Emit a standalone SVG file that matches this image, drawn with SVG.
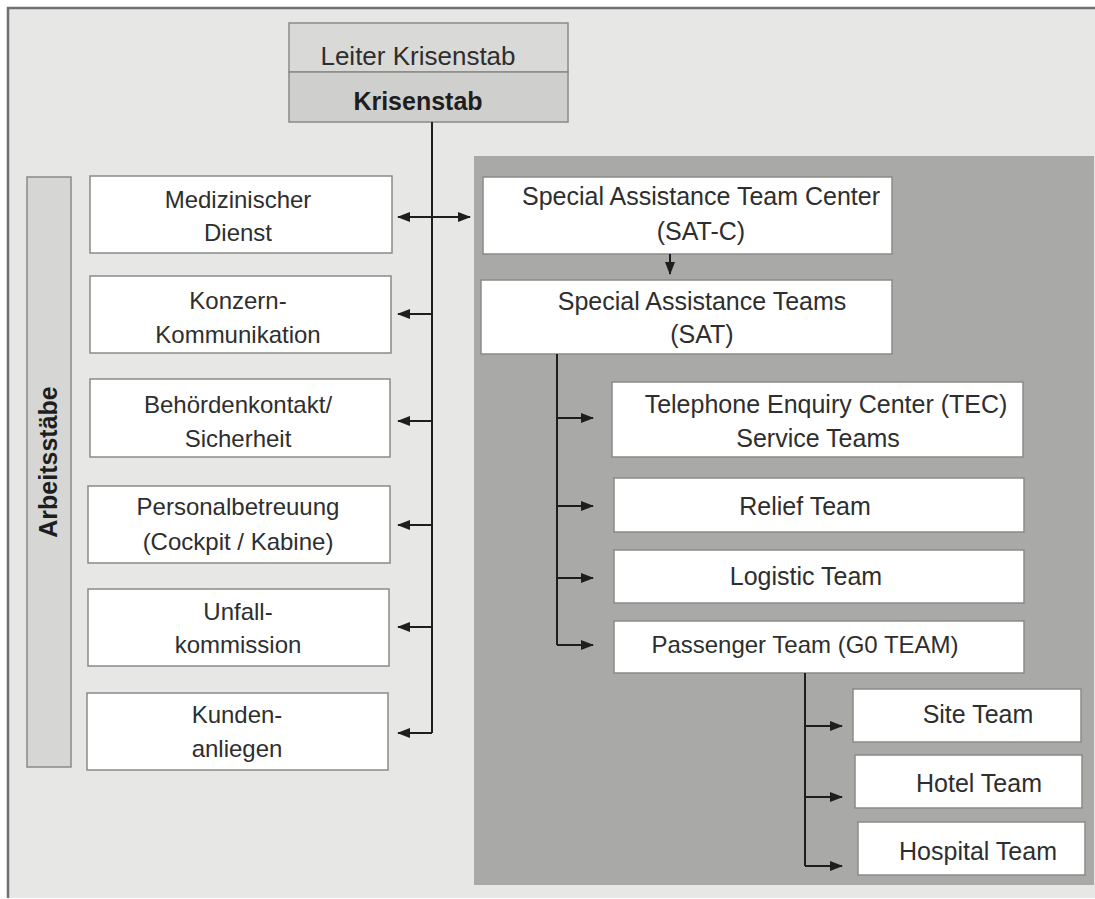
<svg xmlns="http://www.w3.org/2000/svg" width="1095" height="899" viewBox="0 0 1095 899">
<defs>
<marker id="ah" markerUnits="userSpaceOnUse" markerWidth="13" markerHeight="10" refX="12" refY="5" orient="auto-start-reverse">
<path d="M0,0 L13,5 L0,10 z" fill="#1e1e1e"/>
</marker>
</defs>
<style>
.box{fill:#ffffff;stroke:#8a8a88;stroke-width:1.5}
.t{font-family:"Liberation Sans",Arial,sans-serif;font-size:24px;fill:#2e2e2e;text-anchor:middle}
.r{font-size:25px}
.tb{font-family:"Liberation Sans",Arial,sans-serif;font-size:25px;font-weight:bold;fill:#1e1e1e;text-anchor:middle}
.c{fill:none;stroke:#1e1e1e;stroke-width:2}
.ca{fill:none;stroke:#1e1e1e;stroke-width:2;marker-end:url(#ah)}
</style>
<rect x="0" y="0" width="1095" height="899" fill="#ffffff"/>
<rect x="8" y="8" width="1087" height="890" fill="#e7e8e5"/>
<path d="M8,898 L8,8 L1095,8" fill="none" stroke="#707070" stroke-width="2.5"/>
<rect x="474" y="156" width="620" height="729" fill="#a9aaa7"/>

<g id="leiter">
<rect x="289" y="23" width="279" height="49" fill="#d9dad7" stroke="#8a8a88" stroke-width="1.5"/>
<rect x="289" y="72" width="279" height="50" fill="#cfd0cd" stroke="#8a8a88" stroke-width="1.5"/>
<text class="t" x="418" y="65" style="font-size:26px">Leiter Krisenstab</text>
<text class="tb" x="418" y="110">Krisenstab</text>
</g>

<g id="arbeitsstaebe">
<rect x="27" y="177" width="44" height="590" fill="#d6d7d4" stroke="#8a8a88" stroke-width="1.5"/>
<text class="tb" x="0" y="0" transform="translate(57,462) rotate(-90)">Arbeitsstäbe</text>
</g>

<g id="med">
<rect class="box" x="90" y="176" width="302" height="77"/>
<text class="t" x="238" y="208">Medizinischer</text>
<text class="t" x="238" y="241">Dienst</text>
</g>
<g id="konzern">
<rect class="box" x="90" y="276" width="301" height="77"/>
<text class="t" x="238" y="309">Konzern-</text>
<text class="t" x="238" y="343">Kommunikation</text>
</g>
<g id="behoerden">
<rect class="box" x="90" y="379" width="300" height="78"/>
<text class="t" x="238" y="413">Behördenkontakt/</text>
<text class="t" x="238" y="447">Sicherheit</text>
</g>
<g id="personal">
<rect class="box" x="88" y="486" width="302" height="77"/>
<text class="t" x="238" y="515">Personalbetreuung</text>
<text class="t" x="238" y="550">(Cockpit / Kabine)</text>
</g>
<g id="unfall">
<rect class="box" x="88" y="589" width="301" height="77"/>
<text class="t" x="238" y="620">Unfall-</text>
<text class="t" x="238" y="653">kommission</text>
</g>
<g id="kunden">
<rect class="box" x="87" y="693" width="301" height="77"/>
<text class="t" x="237" y="723">Kunden-</text>
<text class="t" x="237" y="757">anliegen</text>
</g>

<g id="satc">
<rect class="box" x="483" y="177" width="409" height="77"/>
<text class="t r" x="701" y="205">Special Assistance Team Center</text>
<text class="t r" x="701" y="240">(SAT-C)</text>
</g>
<g id="sat">
<rect class="box" x="481" y="280" width="411" height="74"/>
<text class="t r" x="702" y="310">Special Assistance Teams</text>
<text class="t r" x="702" y="343">(SAT)</text>
</g>
<g id="tec">
<rect class="box" x="612" y="382" width="411" height="75"/>
<text class="t r" x="826" y="413">Telephone Enquiry Center (TEC)</text>
<text class="t r" x="818" y="447">Service Teams</text>
</g>
<g id="relief">
<rect class="box" x="614" y="478" width="410" height="54"/>
<text class="t r" x="805" y="515">Relief Team</text>
</g>
<g id="logistic">
<rect class="box" x="614" y="550" width="410" height="53"/>
<text class="t r" x="806" y="585">Logistic Team</text>
</g>
<g id="passenger">
<rect class="box" x="614" y="621" width="410" height="52"/>
<text class="t" x="805" y="653">Passenger Team (G0 TEAM)</text>
</g>
<g id="site">
<rect class="box" x="853" y="689" width="228" height="53"/>
<text class="t r" x="978" y="723">Site Team</text>
</g>
<g id="hotel">
<rect class="box" x="855" y="755" width="227" height="53"/>
<text class="t r" x="979" y="792">Hotel Team</text>
</g>
<g id="hospital">
<rect class="box" x="858" y="822" width="227" height="53"/>
<text class="t r" x="978" y="860">Hospital Team</text>
</g>

<g id="connectors">
<path class="c" d="M432,122 L432,733"/>
<path class="ca" d="M398,217 L470,217" style="marker-start:url(#ah)"/>
<path class="ca" d="M432,314 L398,314"/>
<path class="ca" d="M432,421 L398,421"/>
<path class="ca" d="M432,525 L398,525"/>
<path class="ca" d="M432,627 L398,627"/>
<path class="ca" d="M432,733 L398,733"/>
<path class="ca" d="M670,254 L670,274"/>
<path class="c" d="M557,354 L557,645"/>
<path class="ca" d="M557,418 L593,418"/>
<path class="ca" d="M557,506 L593,506"/>
<path class="ca" d="M557,578 L593,578"/>
<path class="ca" d="M557,645 L593,645"/>
<path class="c" d="M805,673 L805,866"/>
<path class="ca" d="M805,726 L842,726"/>
<path class="ca" d="M805,797 L842,797"/>
<path class="ca" d="M805,866 L842,866"/>
</g>
</svg>
